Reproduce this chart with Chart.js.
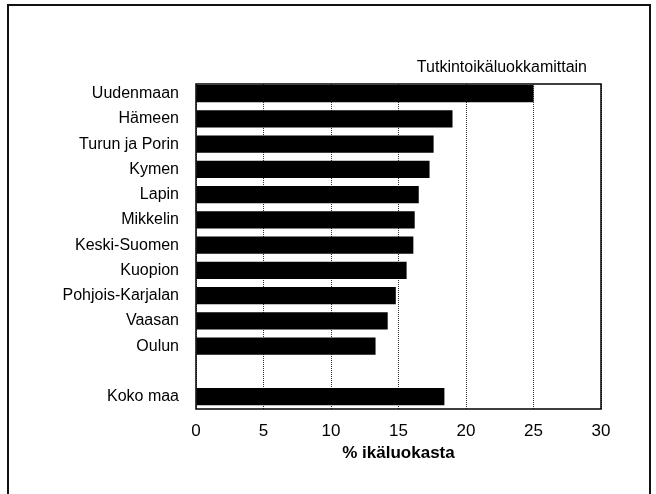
<!DOCTYPE HTML>
<html lang="fi">
<head>
    <meta charset="UTF-8">
    <title>Tutkintoikäluokkamittain</title>
    <style>
        body {
            margin: 0;
            padding: 0;
            background: #fff;
        }
        .page {
            position: relative;
            width: 656px;
            height: 494px;
            overflow: hidden;
        }
        .frame {
            position: absolute;
            left: 7px;
            top: 4px;
            width: 640px;
            height: 520px;
            border: 2px solid #111;
        }
        #chart {
            position: absolute;
            left: 0;
            top: 0;
        }
    </style>
</head>
<body>
    <div class="page">
        <div class="frame"></div>
        <canvas id="chart" width="656" height="494"></canvas>
    </div>

    <script src="https://cdn.jsdelivr.net/npm/chart.js"></script>
    <script>
        // Läänit + tyhjä väli + koko maa
        const regions = ['Uudenmaan', 'Hämeen', 'Turun ja Porin', 'Kymen', 'Lapin', 'Mikkelin',
            'Keski-Suomen', 'Kuopion', 'Pohjois-Karjalan', 'Vaasan', 'Oulun', '', 'Koko maa'];
        const shares = [25.0, 19.0, 17.6, 17.3, 16.5, 16.2, 16.1, 15.6, 14.8, 14.2, 13.3, null, 18.4];
        const chartTitle = 'Tutkintoikäluokkamittain';
        const axisTitle = '% ikäluokasta';
        const xMin = 0, xMax = 30, xStep = 5;

        Chart.defaults.font.family = '"Liberation Sans", Arial, Helvetica, sans-serif';
        Chart.defaults.color = '#000';

        // otsikko oikeaan yläkulmaan ja kehys kuva-alan ympärille
        const framePlugin = {
            id: 'frame',
            afterDatasetsDraw(chart) {
                const { ctx, chartArea: a } = chart;
                ctx.save();
                ctx.setLineDash([]);
                ctx.strokeStyle = '#000';
                ctx.lineWidth = 1.5;
                ctx.strokeRect(a.left, a.top, a.right - a.left, a.bottom - a.top);
                ctx.font = '16px "Liberation Sans", Arial, sans-serif';
                ctx.fillStyle = '#000';
                ctx.textAlign = 'right';
                ctx.textBaseline = 'middle';
                ctx.fillText(chartTitle, a.right - 14, a.top - 16);
                ctx.restore();
            }
        };

        new Chart(document.getElementById('chart'), {
            type: 'bar',
            data: {
                labels: regions,
                datasets: [{
                    data: shares,
                    backgroundColor: '#000',
                    borderWidth: 0,
                    categoryPercentage: 1,
                    barPercentage: 0.69
                }]
            },
            options: {
                indexAxis: 'y',
                responsive: false,
                animation: false,
                layout: { padding: { left: 0, right: 55, top: 84, bottom: 26 } },
                plugins: {
                    legend: { display: false },
                    tooltip: { enabled: false }
                },
                scales: {
                    x: {
                        min: xMin,
                        max: xMax,
                        afterFit(scale) { scale.height = 59; },
                        ticks: { stepSize: xStep, padding: 12, font: { size: 17 } },
                        grid: { color: '#333', lineWidth: 1, drawTicks: false },
                        border: { display: false, dash: [1, 1] },
                        title: { display: true, text: axisTitle, font: { size: 17, weight: 'bold' } }
                    },
                    y: {
                        afterFit(scale) { scale.width = 196; },
                        // ylin palkki on lähempänä kehystä kuin alin
                        afterUpdate(scale) {
                            scale._startValue = -0.38;
                            scale._valueRange = regions.length - 0.13;
                        },
                        grid: { display: false },
                        border: { display: false },
                        ticks: { padding: 9, font: { size: 16 } }
                    }
                }
            },
            plugins: [framePlugin]
        });
    </script>
</body>
</html>
